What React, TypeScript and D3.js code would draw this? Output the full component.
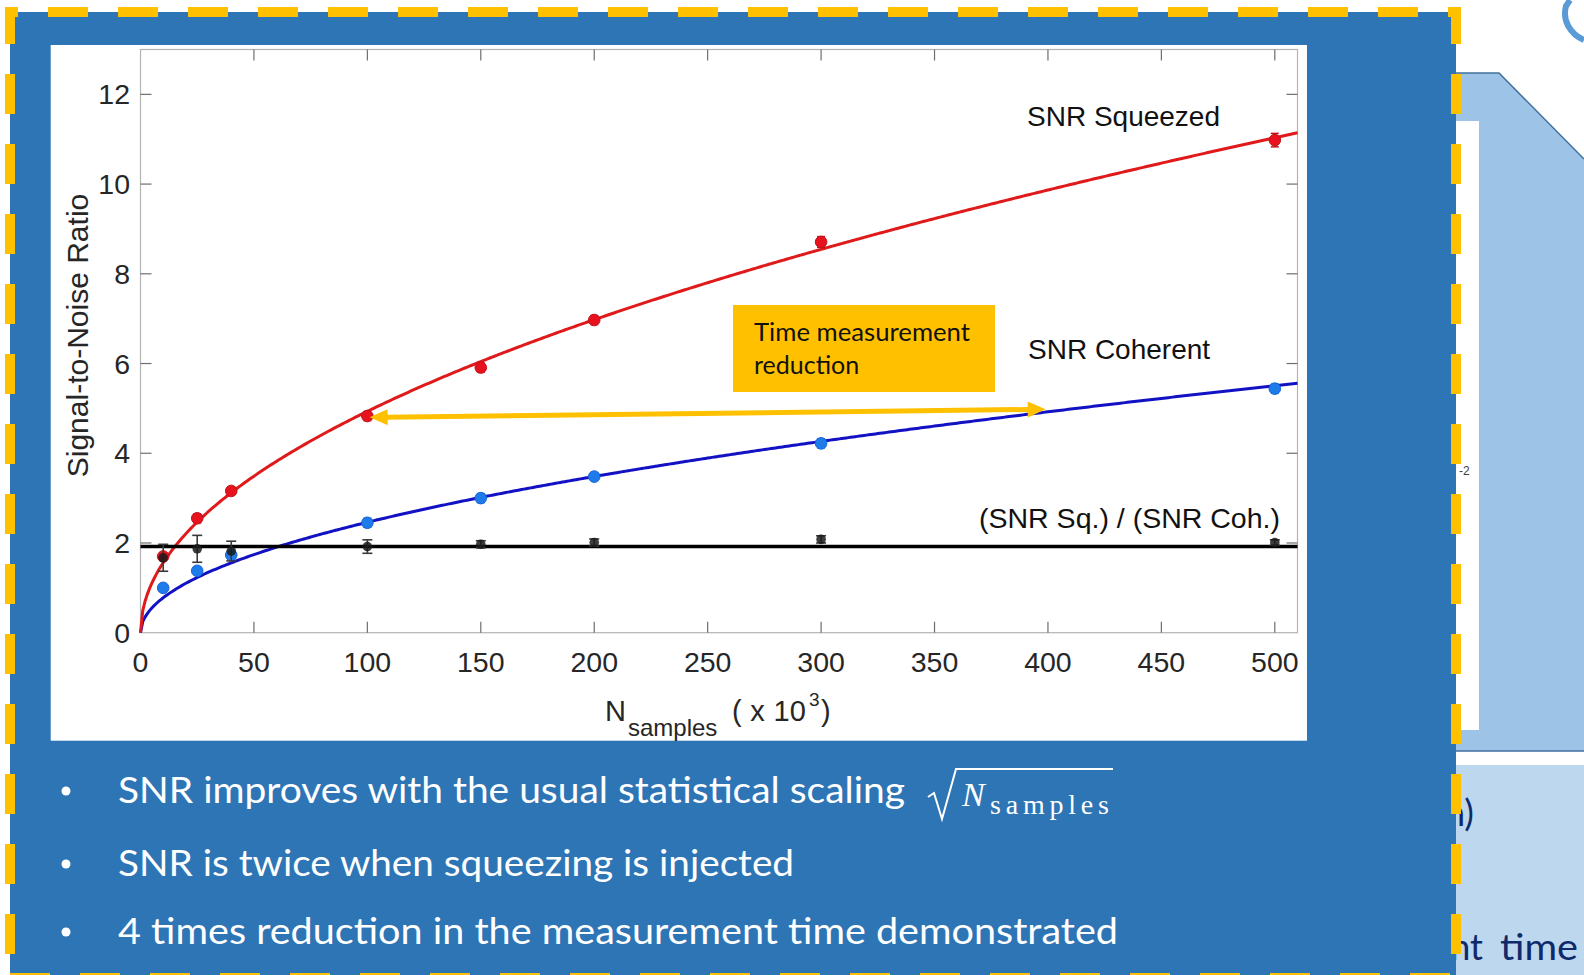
import React from "react";
import * as d3 from "d3";

// Measurement sample sizes (x 10^3)
const nSamples = [10, 25, 40, 100, 150, 200, 300, 500];
// Squeezed-light SNR
const snrSqueezed = [1.7, 2.55, 3.16, 4.83, 5.91, 6.97, 8.71, 10.98];
const snrSqueezedErr = [0.08, 0.1, 0.08, 0.1, 0.1, 0.1, 0.12, 0.15];
// Coherent-light SNR
const snrCoherent = [1.0, 1.38, 1.73, 2.45, 3.0, 3.48, 4.22, 5.44];
const snrCoherentErr = [0.06, 0.08, 0.08, 0.1, 0.1, 0.08, 0.1, 0.1];
// Ratio squeezed / coherent
const snrRatio = [1.67, 1.87, 1.82, 1.92, 1.97, 2.01, 2.08, 2.01];
const snrRatioErr = [0.3, 0.3, 0.22, 0.15, 0.08, 0.08, 0.08, 0.06];

const xTicks = [0, 50, 100, 150, 200, 250, 300, 350, 400, 450, 500];
const yTicks = [0, 2, 4, 6, 8, 10, 12];

// Reduction arrow: squeezed SNR at 100k reaches coherent curve at 400k
const arrowFrom = { n: 101, snr: 4.8 };
const arrowTo = { n: 399, snr: 4.98 };

const bullets = [
  "SNR improves with the usual statistical scaling",
  "SNR is twice when squeezing is injected",
  "4 times reduction in the measurement time demonstrated",
];

// least-squares coefficient for y = a * sqrt(N)
function sqrtFit(ns: number[], ys: number[]) {
  const num = d3.sum(ns, (n, i) => ys[i] * Math.sqrt(n));
  const den = d3.sum(ns);
  return num / den;
}

const AXIS_FONT = "'Liberation Sans', Arial, Helvetica, sans-serif";
const BODY_FONT = "Lato, 'Open Sans', sans-serif";

export default function App() {
  const x = d3.scaleLinear().domain([0, 510]).range([140.5, 1297.5]);
  const y = d3.scaleLinear().domain([0, 13]).range([632.7, 49.5]);

  const aSq = sqrtFit(nSamples, snrSqueezed);
  const aCoh = sqrtFit(nSamples, snrCoherent);
  const ratioMean = d3.mean(snrRatio) as number;

  const grid = d3.range(0, 510.01, 1);
  const fitLine = (a: number) =>
    d3
      .line<number>()
      .x((n) => x(n))
      .y((n) => y(a * Math.sqrt(n)))(grid) as string;

  const [x0, x1] = x.range();
  const [y0, y1] = y.range();
  const tickLen = 11;

  const errorBars = (vals: number[], errs: number[], color: string, cap: number, w: number) =>
    nSamples.map((n, i) => (
      <g key={`e${color}${i}`} stroke={color} strokeWidth={w}>
        <line x1={x(n)} x2={x(n)} y1={y(vals[i] - errs[i])} y2={y(vals[i] + errs[i])} />
        <line x1={x(n) - cap} x2={x(n) + cap} y1={y(vals[i] - errs[i])} y2={y(vals[i] - errs[i])} />
        <line x1={x(n) - cap} x2={x(n) + cap} y1={y(vals[i] + errs[i])} y2={y(vals[i] + errs[i])} />
      </g>
    ));

  // arrow geometry
  const ax1 = x(arrowFrom.n), ay1 = y(arrowFrom.snr);
  const ax2 = x(arrowTo.n), ay2 = y(arrowTo.snr);
  const ang = Math.atan2(ay2 - ay1, ax2 - ax1);
  const headL = 18, headW = 8;
  const head = (tx: number, ty: number, dir: number) => {
    const bx = tx - Math.cos(dir) * headL;
    const by = ty - Math.sin(dir) * headL;
    const px = -Math.sin(dir) * headW;
    const py = Math.cos(dir) * headW;
    return `M${tx},${ty}L${bx + px},${by + py}L${bx - px},${by - py}Z`;
  };

  const bulletBaselines = [803, 876, 944];
  const bulletWidths = [787, 676, 1000];

  return (
    <div style={{ position: "absolute", left: 0, top: 0 }}>
      <svg width={1584} height={975} style={{ display: "block", background: "#ffffff" }}>
        {/* neighbouring slide content on the right */}
        <path d="M1456,73 L1499,73 L1584,159 L1584,751 L1456,751 Z" fill="#9DC3E6" />
        <path d="M1456,73 L1499,73 L1584,159" fill="none" stroke="#41719C" strokeWidth={1.5} />
        <line x1={1456} x2={1584} y1={751} y2={751} stroke="#41719C" strokeWidth={1.5} />
        <rect x={1456} y={121} width={23} height={609} fill="#ffffff" />
        <text x={1459} y={475} fontSize={12} fontFamily={AXIS_FONT} fill="#404040">-2</text>
        <rect x={1456} y={765} width={128} height={210} fill="#BDD7EE" />
        <text x={1474} y={826} fontSize={36} fontFamily={BODY_FONT} fill="#0E2A6B" textAnchor="end">(time domain)</text>
        <text x={1483} y={960} fontSize={36} fontFamily={BODY_FONT} fill="#0E2A6B" textAnchor="end">measurement</text>
        <text x={1500} y={960} fontSize={36} fontFamily={BODY_FONT} fill="#0E2A6B" textLength={78} lengthAdjust="spacingAndGlyphs">time</text>
        <path d="M1584,40 C1570,34 1562,20 1566,6 L1570,0" fill="none" stroke="#5B9BD5" strokeWidth={6} />

        {/* blue panel */}
        <rect x={10} y={12} width={1446} height={975} fill="#2E75B6" />
        <g stroke="#FFC000" strokeWidth={10} strokeDasharray="40 30">
          <line x1={5} x2={1461} y1={12} y2={12} strokeDashoffset={27} />
          <line x1={10} x2={10} y1={7} y2={985} strokeDashoffset={3} />
          <line x1={1456} x2={1456} y1={7} y2={985} strokeDashoffset={3} />
          <line x1={5} x2={1461} y1={978} y2={978} strokeDashoffset={65} />
        </g>

        {/* chart panel */}
        <rect x={50.7} y={45} width={1256.3} height={695.7} fill="#ffffff" />

        {/* axes box */}
        <rect x={x0} y={y1} width={x1 - x0} height={y0 - y1} fill="none" stroke="#b3b3b3" strokeWidth={1.2} />
        <g stroke="#6e6e6e" strokeWidth={1.2}>
          {xTicks.filter((t) => t > 0).map((t) => (
            <g key={`xt${t}`}>
              <line x1={x(t)} x2={x(t)} y1={y0} y2={y0 - tickLen} />
              <line x1={x(t)} x2={x(t)} y1={y1} y2={y1 + tickLen} />
            </g>
          ))}
          {yTicks.filter((t) => t > 0).map((t) => (
            <g key={`yt${t}`}>
              <line x1={x0} x2={x0 + tickLen} y1={y(t)} y2={y(t)} />
              <line x1={x1} x2={x1 - tickLen} y1={y(t)} y2={y(t)} />
            </g>
          ))}
        </g>
        <g fontFamily={AXIS_FONT} fontSize={28.5} fill="#262626">
          {xTicks.map((t) => (
            <text key={`xl${t}`} x={x(t)} y={672} textAnchor="middle">{t}</text>
          ))}
          {yTicks.map((t) => (
            <text key={`yl${t}`} x={130} y={y(t) + 10} textAnchor="end">{t}</text>
          ))}
        </g>

        {/* axis titles */}
        <text
          x={88}
          y={335.5}
          transform="rotate(-90 88 335.5)"
          textAnchor="middle"
          fontFamily={AXIS_FONT}
          fontSize={30}
          fill="#262626"
        >
          Signal-to-Noise Ratio
        </text>
        <g fontFamily={AXIS_FONT} fill="#262626">
          <text x={605} y={721} fontSize={29}>N</text>
          <text x={628} y={736} fontSize={24}>samples</text>
          <text x={732} y={721} fontSize={29} textLength={74} lengthAdjust="spacing">( x 10</text>
          <text x={809} y={706} fontSize={19}>3</text>
          <text x={821} y={721} fontSize={29}>)</text>
        </g>

        {/* fits */}
        <path d={fitLine(aCoh)} fill="none" stroke="#1212C4" strokeWidth={3} />
        <path d={fitLine(aSq)} fill="none" stroke="#E01A1A" strokeWidth={3} />
        <line x1={x0} x2={x1} y1={y(ratioMean)} y2={y(ratioMean)} stroke="#000000" strokeWidth={3.5} />

        {/* data */}
        {errorBars(snrSqueezed, snrSqueezedErr, "#C0141C", 4, 1.5)}
        {nSamples.map((n, i) => (
          <circle key={`r${i}`} cx={x(n)} cy={y(snrSqueezed[i])} r={5.8} fill="#E8121E" stroke="#C0141C" strokeWidth={1} />
        ))}
        {errorBars(snrCoherent, snrCoherentErr, "#1565D8", 4, 1.5)}
        {nSamples.map((n, i) => (
          <circle key={`b${i}`} cx={x(n)} cy={y(snrCoherent[i])} r={5.8} fill="#1E7BEA" stroke="#1565D8" strokeWidth={1} />
        ))}
        {errorBars(snrRatio, snrRatioErr, "#3a3a3a", 5, 1.6)}
        {nSamples.map((n, i) => (
          <circle key={`k${i}`} cx={x(n)} cy={y(snrRatio[i])} r={4.8} fill="#1a1a1a" fillOpacity={0.85} />
        ))}

        {/* curve labels */}
        <g fontFamily={AXIS_FONT} fontSize={28} fill="#111111">
          <text x={1027} y={126}>SNR Squeezed</text>
          <text x={1028} y={359}>SNR Coherent</text>
          <text x={979} y={528} textLength={301} lengthAdjust="spacingAndGlyphs">(SNR Sq.) / (SNR Coh.)</text>
        </g>

        {/* time-reduction annotation */}
        <rect x={733} y={305} width={262} height={87} fill="#FFC000" />
        <g fontFamily={BODY_FONT} fontSize={25} fill="#111111">
          <text x={754} y={341} textLength={216} lengthAdjust="spacingAndGlyphs">Time measurement</text>
          <text x={754} y={374}>reduction</text>
        </g>
        <line
          x1={ax1 + Math.cos(ang) * (headL - 2)}
          y1={ay1 + Math.sin(ang) * (headL - 2)}
          x2={ax2 - Math.cos(ang) * (headL - 2)}
          y2={ay2 - Math.sin(ang) * (headL - 2)}
          stroke="#FFC000"
          strokeWidth={5}
        />
        <path d={head(ax2, ay2, ang)} fill="#FFC000" />
        <path d={head(ax1, ay1, ang + Math.PI)} fill="#FFC000" />

        {/* bullet list */}
        <g fontFamily={BODY_FONT} fill="#ffffff">
          {bullets.map((b, i) => (
            <g key={`bl${i}`}>
              <circle cx={66} cy={bulletBaselines[i] - 12} r={4.5} fill="#ffffff" />
              <text x={118} y={bulletBaselines[i]} fontSize={37} textLength={bulletWidths[i]} lengthAdjust="spacingAndGlyphs">
                {b}
              </text>
            </g>
          ))}
        </g>
        {/* sqrt(N_samples) */}
        <path d="M928,797 L934,793 L942,819 L956,769 L1113,769" fill="none" stroke="#ffffff" strokeWidth={2} />
        <text x={962} y={806} fontFamily="'Liberation Serif', 'DejaVu Serif', serif" fontStyle="italic" fontSize={34} fill="#ffffff">N</text>
        <text x={990} y={814} fontFamily="'Liberation Serif', 'DejaVu Serif', serif" fontSize={28} fill="#ffffff" textLength={119} lengthAdjust="spacing">samples</text>
      </svg>
    </div>
  );
}
